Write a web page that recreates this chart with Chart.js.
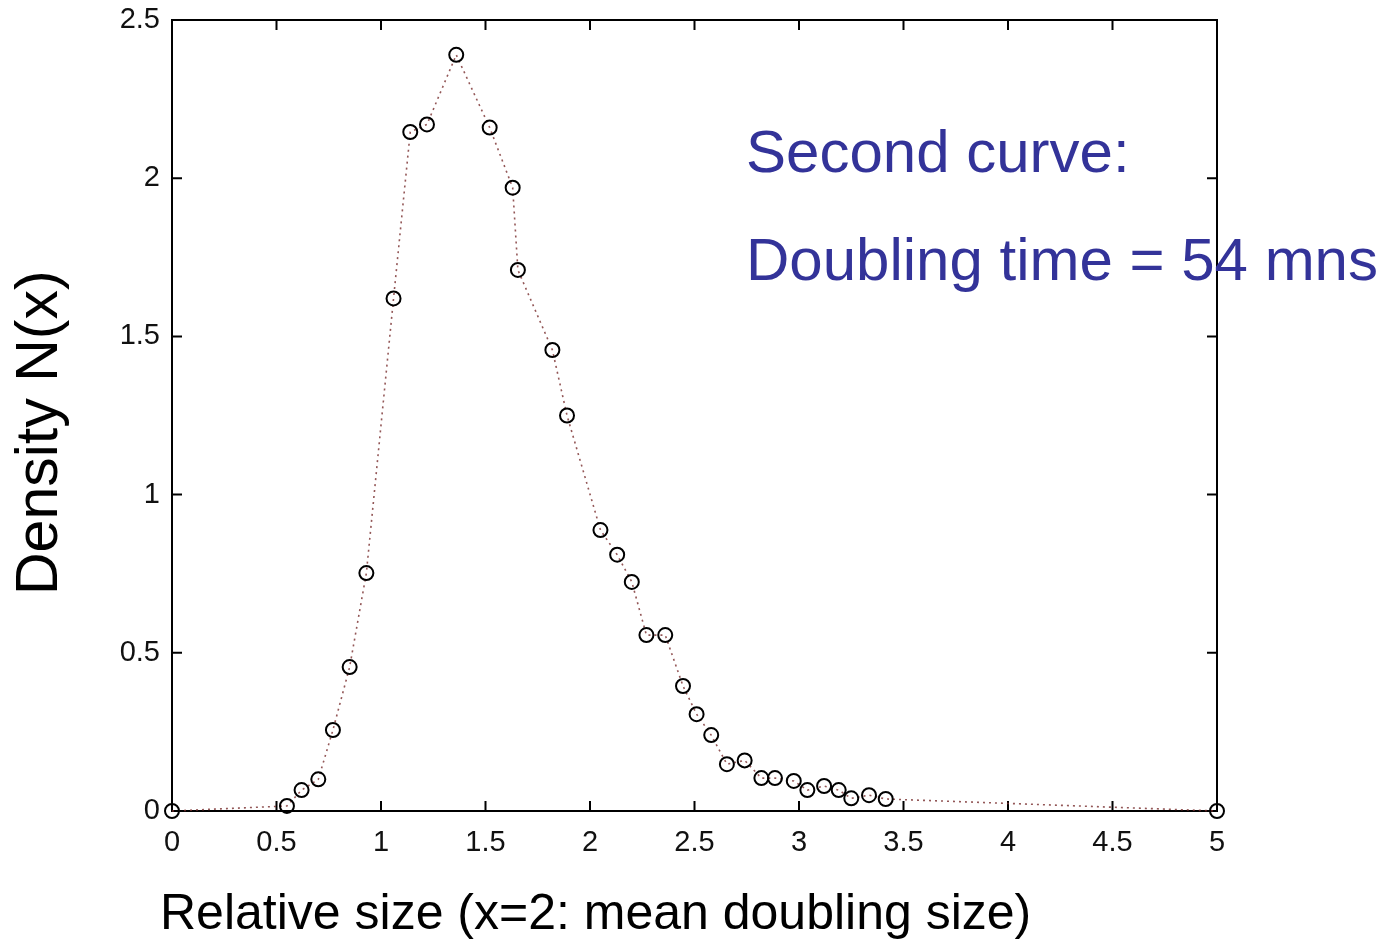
<!DOCTYPE html>
<html>
<head>
<meta charset="utf-8">
<script src="https://cdn.jsdelivr.net/npm/chart.js@4.4.1/dist/chart.umd.min.js"></script>
<style>
    html, body { margin: 0; padding: 0; background: #fff; }
    #wrap { width: 1389px; height: 942px; }
</style>
</head>
<body>
<div id="wrap"><canvas id="chartDensity"></canvas></div>
<script>
// relative size (x) and density N(x)
const sizes = [0, 0.55, 0.62, 0.70, 0.77, 0.85, 0.93, 1.06, 1.14, 1.22, 1.36, 1.52, 1.63, 1.655,
    1.82, 1.89, 2.05, 2.13, 2.20, 2.27, 2.36, 2.445, 2.51, 2.58, 2.655, 2.74, 2.82, 2.885,
    2.975, 3.04, 3.12, 3.19, 3.25, 3.335, 3.415, 5];
const density = [0, 0.016, 0.066, 0.10, 0.256, 0.455, 0.752, 1.62, 2.146, 2.17, 2.39, 2.16, 1.97, 1.71,
    1.457, 1.25, 0.888, 0.81, 0.724, 0.556, 0.556, 0.395, 0.306, 0.24, 0.148, 0.16, 0.104, 0.104,
    0.095, 0.066, 0.079, 0.066, 0.04, 0.05, 0.038, 0];

const xTicks = [0, 0.5, 1, 1.5, 2, 2.5, 3, 3.5, 4, 4.5, 5];
const yTicks = [0, 0.5, 1, 1.5, 2, 2.5];

const xTitle = 'Relative size (x=2: mean doubling size)';
const yTitle = 'Density N(x)';
const noteLines = ['Second curve:', 'Doubling time = 54 mns'];

const points = sizes.map((x, i) => ({x: x, y: density[i]}));

const tickFont = { family: '"Liberation Sans Narrow", "Liberation Sans", Arial, sans-serif', size: 29 };

// matlab style box with inward ticks on all four sides, plus the texts
const framePlugin = {
    id: 'frame',
    beforeDatasetsDraw(chart) {
        const {ctx, chartArea: a, scales} = chart;
        ctx.save();
        ctx.strokeStyle = '#000';
        ctx.lineWidth = 2;
        ctx.strokeRect(a.left, a.top, a.right - a.left, a.bottom - a.top);
        ctx.beginPath();
        xTicks.forEach(v => {
            const px = scales.x.getPixelForValue(v);
            ctx.moveTo(px, a.bottom); ctx.lineTo(px, a.bottom - 10);
            ctx.moveTo(px, a.top); ctx.lineTo(px, a.top + 10);
        });
        yTicks.forEach(v => {
            const py = scales.y.getPixelForValue(v);
            ctx.moveTo(a.left, py); ctx.lineTo(a.left + 10, py);
            ctx.moveTo(a.right, py); ctx.lineTo(a.right - 10, py);
        });
        ctx.stroke();
        ctx.restore();
    },
    afterDraw(chart) {
        const ctx = chart.ctx;
        ctx.save();
        ctx.fillStyle = '#000';
        ctx.font = '50px "Liberation Sans", Arial, sans-serif';
        ctx.textBaseline = 'alphabetic';
        ctx.textAlign = 'left';
        ctx.fillText(xTitle, 160, 929);

        ctx.save();
        ctx.translate(57, 595);
        ctx.rotate(-Math.PI / 2);
        ctx.font = '59px "Liberation Sans", Arial, sans-serif';
        ctx.fillText(yTitle, 0, 0);
        ctx.restore();

        ctx.fillStyle = '#333399';
        ctx.font = '60px "Liberation Sans", Arial, sans-serif';
        ctx.fillText(noteLines[0], 746, 172);
        ctx.fillText(noteLines[1], 746, 280);
        ctx.restore();
    }
};

new Chart(document.getElementById('chartDensity'), {
    type: 'scatter',
    data: {
        datasets: [{
            data: points,
            showLine: true,
            clip: false,
            borderColor: 'rgba(120,45,45,0.8)',
            borderWidth: 1.6,
            borderDash: [2, 4],
            pointStyle: 'circle',
            pointRadius: 7,
            pointBorderWidth: 2,
            pointBorderColor: '#000',
            pointBackgroundColor: 'rgba(0,0,0,0)'
        }]
    },
    options: {
        responsive: true,
        maintainAspectRatio: false,
        animation: false,
        layout: { padding: { left: 0, right: 172, top: 20, bottom: 0 } },
        plugins: { legend: { display: false }, tooltip: { enabled: false } },
        scales: {
            x: {
                type: 'linear',
                min: 0,
                max: 5,
                afterFit: s => { s.height = 131; s.paddingLeft = 0; s.paddingRight = 0; },
                afterBuildTicks: s => { s.ticks = xTicks.map(v => ({value: v})); },
                grid: { display: false, drawTicks: false },
                border: { display: false },
                ticks: {
                    padding: 15,
                    color: '#111',
                    font: tickFont,
                    callback: v => String(v)
                }
            },
            y: {
                type: 'linear',
                min: 0,
                max: 2.5,
                afterFit: s => { s.width = 172; s.paddingTop = 0; s.paddingBottom = 0; },
                afterBuildTicks: s => { s.ticks = yTicks.map(v => ({value: v})); },
                grid: { display: false, drawTicks: false },
                border: { display: false },
                ticks: {
                    padding: 12,
                    color: '#111',
                    font: tickFont,
                    callback: v => String(v)
                }
            }
        }
    },
    plugins: [framePlugin]
});
</script>
</body>
</html>
